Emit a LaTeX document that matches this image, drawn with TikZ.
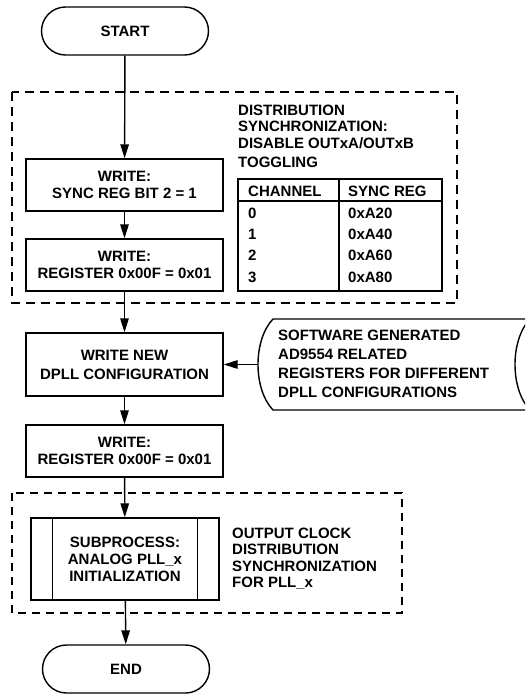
\documentclass[tikz,border=0pt]{standalone}
\usepackage{fontspec}
\setmainfont{Liberation Sans}
\usetikzlibrary{arrows.meta}
\begin{document}
\begin{tikzpicture}[x=1pt,y=-1pt,
  every node/.style={font=\bfseries\fontsize{15}{16.5}\selectfont, inner sep=0pt},
  proc/.style={draw, line width=1.4pt, minimum width=197pt, minimum height=52pt, align=center},
  term/.style={draw, line width=1.4pt, rounded corners=24pt, minimum width=167pt, minimum height=48pt},
  arr/.style={line width=1.4pt, -{Triangle[length=14pt,width=8.5pt]}},
  grpA/.style={line width=1.8pt, dash pattern=on 9pt off 6pt},
  grpB/.style={line width=1.3pt, dash pattern=on 8pt off 6pt},
  lbl/.style={align=left, anchor=north west},
  cell/.style={anchor=west},
  tline/.style={line width=1.4pt}
]
\useasboundingbox (0,0) rectangle (525,696);
\clip (0,0) rectangle (525,696);

% group boxes
\draw[grpA] (12,92) rectangle (457,303);
\draw[grpB] (12,493) rectangle (402,613);

% main nodes
\node[term] (start) at (125,31) {START};
\node[proc] (box1) at (124.5,185) {WRITE:\\SYNC REG BIT 2 = 1};
\node[proc] (box2) at (124.5,265) {WRITE:\\REGISTER 0x00F = 0x01};
\node[proc, minimum height=63pt, font=\bfseries\fontsize{15}{19}\selectfont] (box3) at (124.5,364.5) {WRITE NEW\\DPLL CONFIGURATION};
\node[proc, font=\bfseries\fontsize{15}{17}\selectfont] (box4) at (124.5,451) {WRITE:\\REGISTER 0x00F = 0x01};
\node[proc, minimum width=188pt, minimum height=82pt, font=\bfseries\fontsize{15}{17}\selectfont] (sub) at (125,559) {SUBPROCESS:\\ANALOG PLL\_x\\INITIALIZATION};
\draw[line width=1.4pt] ([xshift=22pt]sub.north west) -- ([xshift=22pt]sub.south west);
\draw[line width=1.4pt] ([xshift=-22pt]sub.north east) -- ([xshift=-22pt]sub.south east);
\node[term] (end) at (126,669) {END};

% labels
\node[lbl] (lblA) at (238,104.5) {DISTRIBUTION\\SYNCHRONIZATION:\\DISABLE OUTxA/OUTxB\\[2.5pt]TOGGLING};
\node[lbl] (lblB) at (232,527.5) {OUTPUT CLOCK\\DISTRIBUTION\\SYNCHRONIZATION\\FOR PLL\_x};

% table
\draw[tline] (238,179) rectangle (442,291);
\draw[tline] (339,179) -- (339,291);
\draw[tline] (238,201) -- (442,201);
\node[cell] (h1) at (248,191) {CHANNEL};
\node[cell] (h2) at (348,191) {SYNC REG};
\node[cell] (c0) at (248,213) {0};
\node[cell] (r0) at (348,213) {0xA20};
\node[cell] (c1) at (248,234) {1};
\node[cell] (r1) at (348,234) {0xA40};
\node[cell] (c2) at (248,255.5) {2};
\node[cell] (r2) at (348,255.5) {0xA60};
\node[cell] (c3) at (248,277) {3};
\node[cell] (r3) at (348,277) {0xA80};

% stored data shape
\draw[line width=1.4pt] (530,319) -- (273,319) .. controls (253,340) and (253,389) .. (273,410) -- (530,410);
\draw[line width=1.4pt] (530,319) .. controls (510,340) and (510,389) .. (530,410);
\node[lbl, font=\bfseries\fontsize{15}{19}\selectfont] (store) at (278,329.5) {SOFTWARE GENERATED\\AD9554 RELATED\\REGISTERS FOR DIFFERENT\\DPLL CONFIGURATIONS};
\coordinate (storeL) at (258,364.5);

% connectors
\draw[arr] (start) -- (box1);
\draw[arr] (box1) -- (box2);
\draw[arr] (box2) -- (box3);
\draw[arr] (box3) -- (box4);
\draw[arr] (box4) -- (sub);
\draw[arr] (sub) -- (end);
\draw[arr] (storeL) -- (box3);
\end{tikzpicture}
\end{document}
